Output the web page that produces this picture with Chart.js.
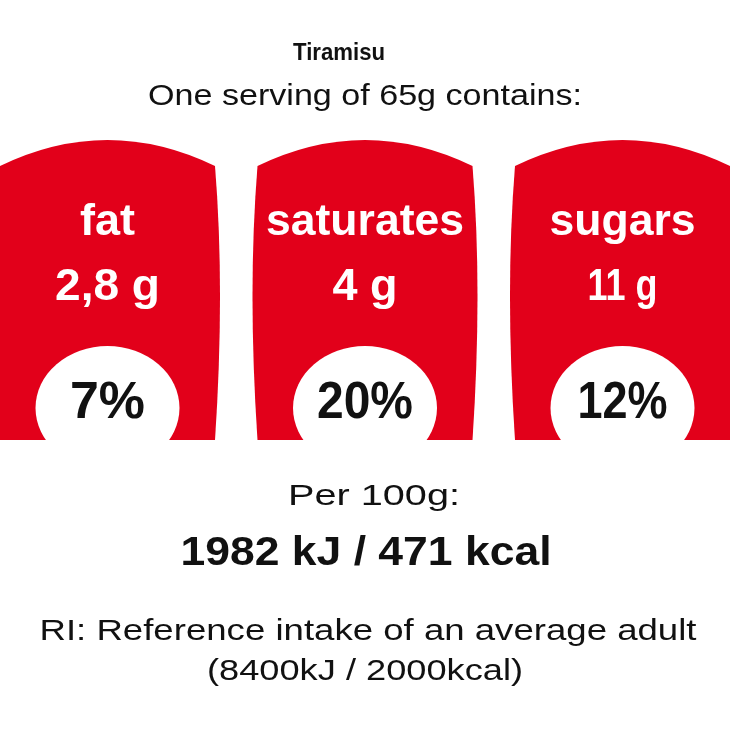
<!DOCTYPE html>
<html><head><meta charset="utf-8">
<script src="https://cdn.jsdelivr.net/npm/chart.js@4.4.1/dist/chart.umd.min.js"></script>
<style>html,body{margin:0;padding:0;background:#fff}#wrap{width:730px;height:730px}</style>
</head><body><div id="wrap"><canvas id="c" width="730" height="730"></canvas></div>
<script>
const title = "Tiramisu";
const subtitle = "One serving of 65g contains:";
const categories = ["fat", "saturates", "sugars"];
const grams = ["2,8 g", "4 g", "11 g"];
const percents = ["7%", "20%", "12%"];
const panelValues = [1, 1, 1];
const footer = ["Per 100g:", "1982 kJ / 471 kcal", "RI: Reference intake of an average adult", "(8400kJ / 2000kcal)"];
const RED = "#e2001a";
const F = "'Liberation Sans', Arial, sans-serif";
const catW = [55, 198, 146], gW = [105, 65, 70], pW = [75, 96, 90];

function fitText(ctx, text, cx, y, font, w) {
  ctx.save();
  ctx.font = font;
  const nat = ctx.measureText(text).width;
  const sx = w / nat;
  ctx.translate(cx, y);
  ctx.scale(sx, 1);
  ctx.textAlign = "center";
  ctx.fillText(text, 0, 0);
  ctx.restore();
}

const labelPlugin = {
  id: "labelPlugin",
  afterDatasetsDraw(chart) {
    const ctx = chart.ctx;
    const meta = chart.getDatasetMeta(0);
    const xs = chart.scales.x;
    const w = xs.getPixelForValue(0.4175) - xs.getPixelForValue(-0.4175);
    meta.data.forEach((el, i) => {
      const cx = el.x, L = cx - w/2, R = cx + w/2;
      const t = el.y, b = el.base;
      ctx.save();
      ctx.fillStyle = RED;
      ctx.beginPath();
      ctx.moveTo(L, t + 26);
      ctx.quadraticCurveTo(cx, t - 26, R, t + 26);
      ctx.quadraticCurveTo(R + 10, (t + b) / 2, R, b);
      ctx.lineTo(L, b);
      ctx.quadraticCurveTo(L - 10, (t + b) / 2, L, t + 26);
      ctx.fill();
      ctx.fillStyle = "#fff";
      ctx.beginPath();
      ctx.ellipse(cx, b - 32, 72, 62, 0, 0, Math.PI * 2);
      ctx.fill();
      ctx.fillStyle = "#fff";
      fitText(ctx, categories[i], cx, 235, "bold 44px " + F, catW[i]);
      fitText(ctx, grams[i], cx, 300, "bold 44px " + F, gW[i]);
      ctx.fillStyle = "#111";
      fitText(ctx, percents[i], cx, 418, "bold 52px " + F, pW[i]);
      ctx.restore();
    });
    ctx.save();
    ctx.fillStyle = "#111";
    fitText(ctx, title, 339, 60, "bold 24px " + F, 92);
    fitText(ctx, subtitle, 365, 105, "30px " + F, 434);
    fitText(ctx, footer[0], 374, 505, "30px " + F, 172);
    fitText(ctx, footer[1], 366, 565, "bold 40px " + F, 371);
    fitText(ctx, footer[2], 368, 640, "30px " + F, 657);
    fitText(ctx, footer[3], 365, 680, "30px " + F, 316);
    ctx.restore();
  }
};

new Chart(document.getElementById("c"), {
  type: "bar",
  data: {
    datasets: [{
      data: panelValues.map((v, i) => ({ x: i, y: v })),
      backgroundColor: "rgba(0,0,0,0)"
    }]
  },
  options: {
    responsive: false,
    animation: false,
    devicePixelRatio: 1,
    layout: { padding: { top: 140, bottom: 290, left: 0, right: 0 } },
    plugins: { legend: { display: false }, tooltip: { enabled: false }, title: { display: false } },
    scales: {
      x: { type: "linear", min: -0.4175, max: 2.4175, display: false, offset: false },
      y: { min: 0, max: 1, display: false }
    }
  },
  plugins: [labelPlugin]
});
</script></body></html>
